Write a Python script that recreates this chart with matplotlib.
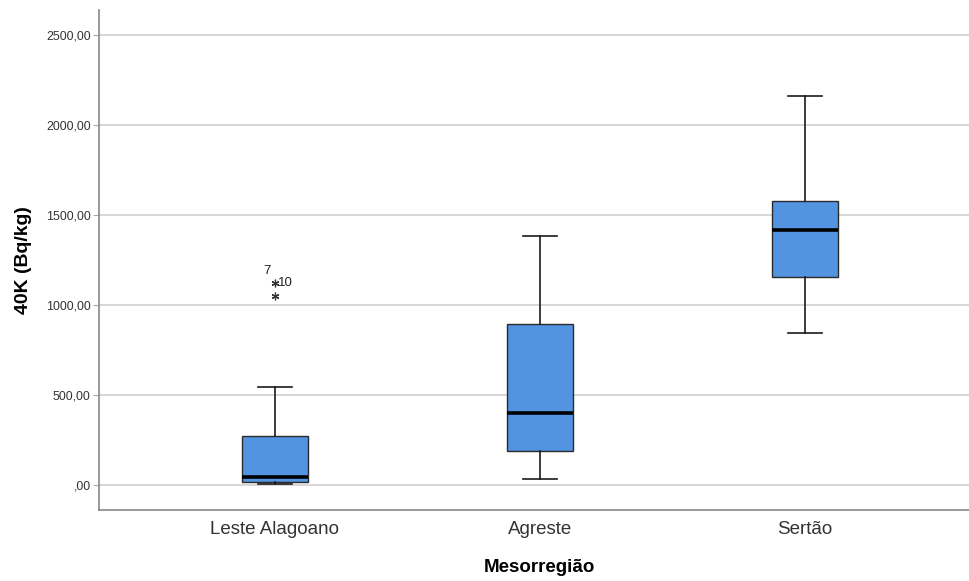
import matplotlib
matplotlib.use("Agg")
import matplotlib.pyplot as plt
from matplotlib.ticker import FuncFormatter

# Five-number summaries of 40K activity by mesoregion (Bq/kg)
categories = ["Leste Alagoano", "Agreste", "Sertão"]
whisker_low = [3, 33, 844]
q1 = [14, 189, 1156]
median = [44, 400, 1417]
q3 = [272, 894, 1578]
whisker_high = [544, 1383, 2161]
outliers = [[1122, 1050], [], []]
outlier_labels = [["10", ""], [], []]

plt.rcParams["font.family"] = ["Liberation Sans", "DejaVu Sans"]

fig = plt.figure(figsize=(9.70, 5.81), dpi=100)
ax = fig.add_axes([99 / 970, 71 / 581, 871 / 970, 500 / 581])

stats = []
for i, name in enumerate(categories):
    stats.append(dict(label=name, whislo=whisker_low[i], q1=q1[i], med=median[i],
                      q3=q3[i], whishi=whisker_high[i], fliers=outliers[i]))

positions = list(range(len(categories)))
ax.bxp(stats, positions=positions, widths=0.25, patch_artist=True,
       showfliers=True,
       boxprops=dict(facecolor="#5394e1", edgecolor="#2a2a2a", linewidth=1.0),
       medianprops=dict(color="black", linewidth=2.6),
       whiskerprops=dict(color="#1a1a1a", linewidth=1.2),
       capprops=dict(color="#1a1a1a", linewidth=1.2),
       capwidths=0.13,
       flierprops=dict(marker=(6, 2, 0), markersize=5.5, markeredgecolor="#333333",
                       markeredgewidth=0.9, linestyle="none"),
       zorder=3)

# Case-number labels of the extreme values
for i, vals in enumerate(outliers):
    for v, lab in zip(vals, outlier_labels[i]):
        if lab:
            ax.text(positions[i] + 0.012, v, lab, fontsize=9.5, color="#222222",
                    ha="left", va="center")
ax.text(positions[0] - 0.03, outliers[0][0] + 65, "7", fontsize=9.5,
        color="#222222", ha="center", va="center")

xmin, xmax = -0.664, 2.623
ax.set_xlim(xmin, xmax)
ax.set_ylim(-139, 2639)
ax.set_yticks([0, 500, 1000, 1500, 2000, 2500])
ax.yaxis.set_major_formatter(FuncFormatter(
    lambda v, p: ",00" if v == 0 else f"{v:.2f}".replace(".", ",")))
ax.grid(axis="y", color="#d0d0d0", linewidth=1.2, zorder=0)
ax.set_axisbelow(True)

for side in ("top", "right"):
    ax.spines[side].set_visible(False)
for side in ("left", "bottom"):
    ax.spines[side].set_color("#888888")
    ax.spines[side].set_linewidth(1.2)

ax.tick_params(axis="y", length=4, color="#aaaaaa", labelsize=8.9,
               labelcolor="#333333", pad=2)
ax.tick_params(axis="x", length=0, labelsize=13.5, labelcolor="#333333", pad=8)
ax.set_xticks(positions)
ax.set_xticklabels(categories)

ax.set_ylabel("40K (Bq/kg)", fontsize=14, fontweight="bold", labelpad=10)
# centre the axis title under the middle category
ax.set_xlabel("Mesorregião", fontsize=13.5, fontweight="bold", labelpad=15,
              x=(positions[1] - xmin) / (xmax - xmin))

fig.savefig("out.png", dpi=100)
